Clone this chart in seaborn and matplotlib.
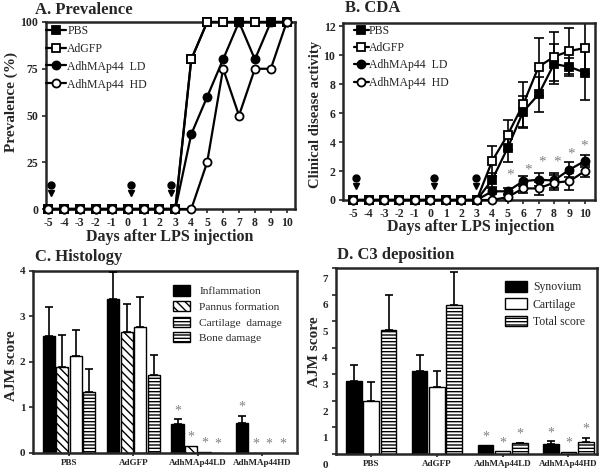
import numpy as np
import pandas as pd
import matplotlib
matplotlib.use("Agg")
import matplotlib.pyplot as plt
import matplotlib.transforms as mtransforms
from matplotlib.patches import Patch
import seaborn as sns

# ---------------- data ----------------
days = list(range(-5, 11))
day_ticks = list(range(-5, 11))

# A. Prevalence (%)
prev_pbs = [0, 0, 0, 0, 0, 0, 0, 0, 0, 80, 100, 100, 100, 100, 100, 100]
prev_adgfp = [0, 0, 0, 0, 0, 0, 0, 0, 0, 80, 100, 100, 100, 100, 100, 100]
prev_ld = [0, 0, 0, 0, 0, 0, 0, 0, 0, 40, 60, 80, 100, 80, 100, 100]
prev_hd = [0, 0, 0, 0, 0, 0, 0, 0, 0, 0, 25, 75, 50, 75, 75, 100]
prev_yticks = [0, 25, 50, 75, 100]

# B. CDA (mean, sem)
cda_pbs = [0, 0, 0, 0, 0, 0, 0, 0, 0, 1.4, 3.6, 6.1, 7.3, 9.4, 9.2, 8.8]
cda_pbs_err = [0, 0, 0, 0, 0, 0, 0, 0, 0, 0.5, 1.0, 1.1, 1.2, 1.4, 0.6, 1.9]
cda_adgfp = [0, 0, 0, 0, 0, 0, 0, 0, 0, 2.7, 4.5, 6.6, 9.2, 9.9, 10.3, 10.5]
cda_adgfp_err = [0, 0, 0, 0, 0, 0, 0, 0, 0, 1.05, 1.05, 1.55, 2.0, 1.7, 1.6, 1.8]
cda_ld = [0, 0, 0, 0, 0, 0, 0, 0, 0, 0.6, 0.6, 1.3, 1.4, 1.35, 2.1, 2.7]
cda_ld_err = [0, 0, 0, 0, 0, 0, 0, 0, 0, 0.2, 0.2, 0.35, 0.45, 0.5, 0.5, 0.4]
cda_hd = [0, 0, 0, 0, 0, 0, 0, 0, 0, 0.0, 0.2, 0.8, 0.8, 1.2, 1.3, 2.0]
cda_hd_err = [0, 0, 0, 0, 0, 0, 0, 0, 0, 0, 0.15, 0.3, 0.45, 0.5, 0.6, 0.4]
cda_yticks = [0, 2, 4, 6, 8, 10, 12]
cda_star_x = [5.15, 6.3, 7.25, 8.17, 9.08, 9.97]
cda_star_y = [1.7, 2.1, 2.6, 2.6, 3.2, 3.7]

# injection pins (days)
pin_days_a = [-4.8, 0.2, 2.7]
pin_days_b = [-4.8, 0.25, 2.95]

group_names = ["PBS", "AdGFP", "AdhMAp44  LD", "AdhMAp44  HD"]

# C. Histology
bar_groups = ["PBS", "AdGFP", "AdhMAp44LD", "AdhMAp44HD"]
hist_series = ["Inflammation", "Pannus formation", "Cartilage  damage", "Bone damage"]
hist_inflam = [2.57, 3.38, 0.63, 0.65]
hist_inflam_err = [0.64, 0.60, 0.11, 0.16]
hist_pannus = [1.89, 2.66, 0.16, 0.0]
hist_pannus_err = [0.70, 0.60, 0.0, 0.0]
hist_cart = [2.12, 2.76, 0.03, 0.0]
hist_cart_err = [0.58, 0.67, 0.0, 0.0]
hist_bone = [1.33, 1.72, 0.0, 0.0]
hist_bone_err = [0.51, 0.43, 0.0, 0.0]
hist_star = [0, 0, 1, 1]  # star on LD and HD groups, all series
hist_yticks = [0, 1, 2, 3, 4]

# D. C3 deposition
c3_series = ["Synovium", "Cartilage", "Total score"]
c3_syn = [2.74, 3.11, 0.33, 0.38]
c3_syn_err = [0.60, 0.60, 0.0, 0.10]
c3_cart = [2.0, 2.53, 0.10, 0.08]
c3_cart_err = [0.71, 0.60, 0.0, 0.0]
c3_total = [4.68, 5.59, 0.41, 0.45]
c3_total_err = [1.32, 1.25, 0.02, 0.15]
c3_star = [0, 0, 1, 1]
c3_yticks = [0, 1, 2, 3, 4, 5, 6, 7]

# ---------------- style ----------------
sns.set_style("ticks")
plt.rcParams["font.family"] = ["Liberation Serif", "DejaVu Serif"]
plt.rcParams["hatch.linewidth"] = 1.0
plt.rcParams["axes.linewidth"] = 1.8
plt.rcParams["axes.unicode_minus"] = False

W, H = 602, 471
fig = plt.figure(figsize=(W / 100, H / 100), dpi=100)


def ax_at(l, t, r, b):
    return fig.add_axes([l / W, 1 - b / H, (r - l) / W, (b - t) / H])


def style_ticks(ax, size):
    ax.tick_params(direction="out", length=3, width=1.2, labelsize=size, pad=2.5)
    for lab in ax.get_xticklabels() + ax.get_yticklabels():
        lab.set_fontweight("bold")


axA = ax_at(46, 22, 295, 209)
axB = ax_at(343, 23, 595, 200)
axC = ax_at(33, 270.7, 297, 453)
axD = ax_at(335.7, 268, 596.7, 454)

series_style = [
    ("s", "black"),
    ("s", "white"),
    ("o", "black"),
    ("o", "white"),
]

# ---------------- A ----------------
for vals, name, (mk, fc) in zip([prev_pbs, prev_adgfp, prev_ld, prev_hd], group_names, series_style):
    sns.lineplot(x=days, y=vals, ax=axA, color="black", lw=1.6, marker=mk, markersize=5.8,
                 markerfacecolor=fc, markeredgecolor="black", markeredgewidth=1.3,
                 label=name, clip_on=False, zorder=3)
axA.plot(pin_days_a, [13] * len(pin_days_a), "o", color="black", ms=5, clip_on=False, zorder=4)
axA.plot(pin_days_a, [8.5] * len(pin_days_a), "v", color="black", ms=5, clip_on=False, zorder=4)
axA.set_xlim(-5.13, 10.52)
axA.set_ylim(0, 100)
axA.set_xticks(day_ticks)
axA.set_yticks(prev_yticks)
axA.set_xlabel("")
axA.set_ylabel("")
style_ticks(axA, 8.5)
axA.legend(loc="upper left", bbox_to_anchor=(0.0, 0.985), frameon=False, fontsize=8.5,
           handlelength=1.7, handletextpad=0.1, labelspacing=0.5, borderaxespad=0, borderpad=0)

# ---------------- B ----------------
for vals, errs, name, (mk, fc) in zip([cda_pbs, cda_adgfp, cda_ld, cda_hd],
                                      [cda_pbs_err, cda_adgfp_err, cda_ld_err, cda_hd_err],
                                      group_names, series_style):
    v = np.array(vals, float)
    e = np.array(errs, float)
    d = np.array(days, float)
    m = e > 0
    axB.errorbar(d[m], v[m], yerr=e[m], fmt="none", ecolor="black", elinewidth=1.2,
                 capsize=3.5, capthick=1.2, zorder=2)
    sns.lineplot(x=days, y=vals, ax=axB, color="black", lw=1.6, marker=mk, markersize=5.8,
                 markerfacecolor=fc, markeredgecolor="black", markeredgewidth=1.3,
                 label=name, clip_on=False, zorder=3)
axB.plot(pin_days_b, [1.5] * len(pin_days_b), "o", color="black", ms=5, clip_on=False, zorder=4)
axB.plot(pin_days_b, [0.95] * len(pin_days_b), "v", color="black", ms=5, clip_on=False, zorder=4)
for sx, sy in zip(cda_star_x, cda_star_y):
    axB.text(sx, sy, "*", ha="center", va="center", color="#808080", fontsize=11)
axB.set_xlim(-5.65, 10.65)
axB.set_ylim(0, 12.23)
axB.set_xticks(day_ticks)
axB.set_yticks(cda_yticks)
axB.set_xlabel("")
axB.set_ylabel("")
style_ticks(axB, 8.5)
axB.legend(loc="upper left", bbox_to_anchor=(0.045, 0.99), frameon=False, fontsize=8.5,
           handlelength=1.2, handletextpad=0.05, labelspacing=0.45, borderaxespad=0, borderpad=0)


# ---------------- bar helper ----------------
def bar_panel(ax, series, values, errors, stars, facecolors, hatches, width, gap):
    n = len(series)
    df = pd.DataFrame({
        "group": np.tile(bar_groups, n),
        "series": np.repeat(series, len(bar_groups)),
        "value": np.concatenate([np.asarray(v, float) for v in values]),
    })
    sns.barplot(data=df, x="group", y="value", hue="series", order=bar_groups,
                hue_order=series, palette=facecolors, edgecolor="black", linewidth=1.0,
                width=width, gap=gap, errorbar=None, legend=False, saturation=1, ax=ax)
    slot = width / n
    for p in ax.patches:
        cx = p.get_x() + p.get_width() / 2
        j = int(round(cx))
        i = int(round((cx - j) / slot + (n - 1) / 2))
        i = min(max(i, 0), n - 1)
        p.set_hatch(hatches[i])
        p.set_facecolor(facecolors[i])
        p.set_edgecolor("black")
    for i in range(n):
        for j in range(len(bar_groups)):
            x = j + (i - (n - 1) / 2) * slot
            top = values[i][j]
            err = errors[i][j]
            if err > 0:
                ax.errorbar([x], [top], yerr=[[0], [err]], fmt="none", ecolor="black",
                            elinewidth=1.2, capsize=3, capthick=1.2, zorder=3)
            if stars[j]:
                ax.annotate("*", (x, top + err), xytext=(0, 1.5), textcoords="offset points",
                            ha="center", va="bottom", color="#808080", fontsize=10)
    ax.set_xlabel("")
    ax.set_ylabel("")


# ---------------- C ----------------
bar_panel(axC, hist_series,
          [hist_inflam, hist_pannus, hist_cart, hist_bone],
          [hist_inflam_err, hist_pannus_err, hist_cart_err, hist_bone_err],
          hist_star, ["black", "white", "white", "white"],
          ["", "\\\\\\\\", "", "-----"], 0.84, 0.095)
axC.set_xlim(-0.56, 3.54)
axC.set_ylim(0, 4)
axC.set_yticks(hist_yticks)
style_ticks(axC, 8)
axC.tick_params(axis="x", labelsize=6.5, length=2)
for lab in axC.get_xticklabels():
    lab.set_fontweight("bold")
hC = [Patch(facecolor="black", edgecolor="black"),
      Patch(facecolor="white", edgecolor="black", hatch="\\\\\\\\"),
      Patch(facecolor="white", edgecolor="black", hatch="-----"),
      Patch(facecolor="white", edgecolor="black", hatch="-----")]
axC.legend(hC, hist_series, loc="upper left", bbox_to_anchor=(0.53, 0.919), frameon=False,
           fontsize=8.2, handlelength=1.5, handleheight=1.0, handletextpad=0.8,
           labelspacing=0.4, borderaxespad=0, borderpad=0)

# ---------------- D ----------------
bar_panel(axD, c3_series,
          [c3_syn, c3_cart, c3_total],
          [c3_syn_err, c3_cart_err, c3_total_err],
          c3_star, ["black", "white", "white"],
          ["", "", "-----"], 0.79, 0.1)
axD.set_xlim(-0.54, 3.43)
axD.set_ylim(0, 7)
axD.set_yticks(c3_yticks)
axD.set_yticklabels([])
style_ticks(axD, 8)
axD.tick_params(axis="x", labelsize=6.5, length=2)
for lab in axD.get_xticklabels():
    lab.set_fontweight("bold")
trD = mtransforms.blended_transform_factory(axD.transAxes, axD.transData)
for t in c3_yticks:
    axD.text(-0.03, t - 0.42, str(t), transform=trD, ha="right", va="center",
             fontsize=8, fontweight="bold", clip_on=False)
hD = [Patch(facecolor="black", edgecolor="black"),
      Patch(facecolor="white", edgecolor="black"),
      Patch(facecolor="white", edgecolor="black", hatch="-----")]
axD.legend(hD, c3_series, loc="upper left", bbox_to_anchor=(0.649, 0.93), frameon=False,
           fontsize=8.5, handlelength=1.85, handleheight=1.0, handletextpad=0.5,
           labelspacing=0.42, borderaxespad=0, borderpad=0)

for ax in (axA, axB, axC, axD):
    for s in ax.spines.values():
        s.set_linewidth(1.8)
        s.set_visible(True)


# ---------------- titles & axis labels ----------------
def ftxt(x, y, s, **kw):
    fig.text(x / W, 1 - y / H, s, **kw)


ftxt(35, 10, "A. Prevalence", fontsize=12, fontweight="bold", ha="left", va="center")
ftxt(345, 8, "B. CDA", fontsize=12, fontweight="bold", ha="left", va="center")
ftxt(35, 257, "C. Histology", fontsize=12, fontweight="bold", ha="left", va="center")
ftxt(337, 255, "D. C3 deposition", fontsize=12, fontweight="bold", ha="left", va="center")

ftxt(170, 237, "Days after LPS injection", fontsize=11.5, fontweight="bold", ha="center", va="center")
ftxt(471, 227, "Days after LPS injection", fontsize=11.5, fontweight="bold", ha="center", va="center")

ftxt(11, 102, "Prevalence (%)", fontsize=11, fontweight="bold", ha="center", va="center", rotation=90)
ftxt(316, 114, "Clinical disease activity", fontsize=10.5, fontweight="bold", ha="center", va="center", rotation=90)
ftxt(12, 366, "AJM score", fontsize=11, fontweight="bold", ha="center", va="center", rotation=90)
ftxt(315, 352, "AJM score", fontsize=11, fontweight="bold", ha="center", va="center", rotation=90)

fig.savefig("out.png", dpi=100)
